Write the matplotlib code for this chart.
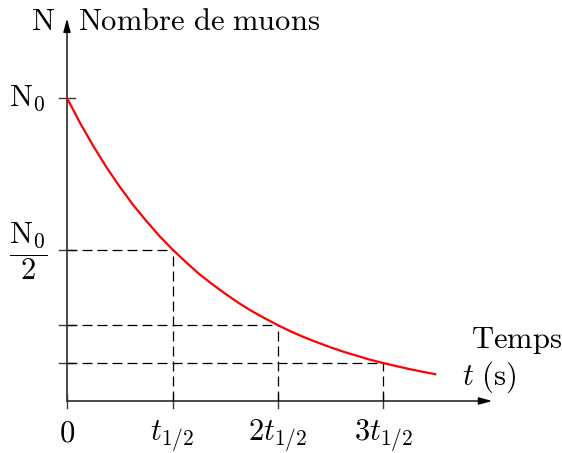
import matplotlib
matplotlib.use("Agg")
import matplotlib.pyplot as plt

plt.rcParams['mathtext.fontset'] = 'cm'

# Data (time in half-lives, N in units of N0)
t_vals = [k * 0.125 for k in range(29)]
n_vals = [1.000, 0.917, 0.841, 0.771, 0.707, 0.648, 0.595, 0.545, 0.500,
          0.459, 0.420, 0.386, 0.354, 0.324, 0.297, 0.273, 0.250,
          0.229, 0.210, 0.193, 0.177, 0.162, 0.149, 0.136, 0.125,
          0.115, 0.105, 0.096, 0.088]
marks_t = [1, 2, 3]
marks_n = [0.5, 0.25, 0.125]
xtick_pos = [0, 1, 2, 3]
xtick_labels = [r'$0$', r'$t_{1/2}$', r'$2t_{1/2}$', r'$3t_{1/2}$']
ytick_pos = [1.0, 0.5, 0.25, 0.125]

W, H = 562, 453
fig = plt.figure(figsize=(W/100, H/100), dpi=100)
ax = fig.add_axes([0, 0, 1, 1])
ax.set_axis_off()
x0, sx = 67, 105.5
y0, sy = 401, 303
ax.set_xlim(-x0/sx, (W - x0)/sx)
ax.set_ylim((y0 - H)/sy, y0/sy)

axc = '#3a3a3a'
# axes with arrows
ax.plot([0, 3.92], [0, 0], color=axc, lw=1.3)
ax.plot([0, 0], [0, 1.225], color=axc, lw=1.3)
ax.annotate('', xy=(4.03, 0), xytext=(3.9, 0),
            arrowprops=dict(arrowstyle='-|>,head_length=0.8,head_width=0.22', color='black', lw=1.0,
                            shrinkA=0, shrinkB=0))
ax.annotate('', xy=(0, 1.262), xytext=(0, 1.22),
            arrowprops=dict(arrowstyle='-|>,head_length=0.8,head_width=0.22', color='black', lw=1.0,
                            shrinkA=0, shrinkB=0))

# ticks
for tp in xtick_pos:
    ax.plot([tp, tp], [-7/sy, 7/sy], color=axc, lw=1.0)
for yp in ytick_pos:
    ax.plot([-8/sx, 8/sx], [yp, yp], color=axc, lw=1.0)

# dashed guides
for tm, nm in zip(marks_t, marks_n):
    ax.plot([0, tm], [nm, nm], color='black', lw=0.9, ls=(0, (8, 4)))
    ax.plot([tm, tm], [0, nm], color='black', lw=0.9, ls=(0, (8, 4)))

# curve
ax.plot(t_vals, n_vals, color='#ff0000', lw=1.6, solid_capstyle='butt')

fs = 22
for tp, lab in zip(xtick_pos, xtick_labels):
    ax.text(tp, (y0 - 441)/sy, lab, ha='center', va='baseline', fontsize=fs)

ax.text(-22/sx, 1.0, r'$\mathrm{N}_0$', ha='right', va='center', fontsize=fs)
ax.text(-39/sx, (y0 - 251)/sy, r'$\dfrac{\mathrm{N}_0}{2}$', ha='center', va='center', fontsize=fs)

ax.text(-12/sx, (y0 - 22)/sy, r'$\mathrm{N}$', ha='right', va='center', fontsize=fs)
ax.text(11/sx, (y0 - 22)/sy, r'$\mathrm{Nombre\ de\ muons}$', ha='left', va='center', fontsize=fs)
ax.text((517 - x0)/sx, (y0 - 340)/sy, r'$\mathrm{Temps}$', ha='center', va='center', fontsize=fs)
ax.text((489 - x0)/sx, (y0 - 377)/sy, r'$t\ (\mathrm{s})$', ha='center', va='center', fontsize=fs)

fig.savefig('out.png', dpi=100)
